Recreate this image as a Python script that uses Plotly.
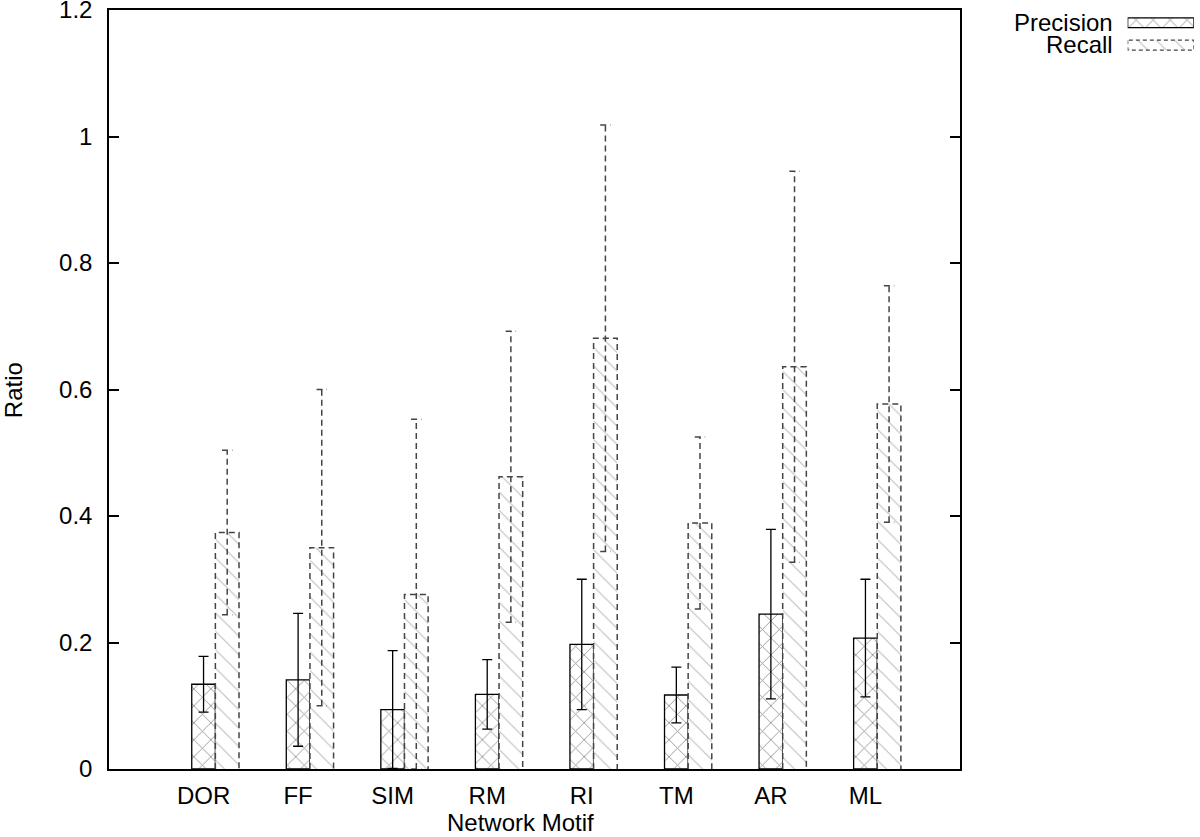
import plotly.graph_objects as go

# values
motifs = ['DOR', 'FF', 'SIM', 'RM', 'RI', 'TM', 'AR', 'ML']
precision = [0.134, 0.141, 0.094, 0.118, 0.197, 0.117, 0.245, 0.207]
precision_err = [0.044, 0.105, 0.093, 0.055, 0.103, 0.044, 0.134, 0.093]
recall = [0.374, 0.350, 0.276, 0.462, 0.681, 0.389, 0.636, 0.577]
recall_err = [0.130, 0.250, 0.277, 0.230, 0.337, 0.136, 0.309, 0.187]
y_ticks = [0, 0.2, 0.4, 0.6, 0.8, 1, 1.2]
y_tick_text = ['0', '0.2', '0.4', '0.6', '0.8', '1', '1.2']

BAR_W = 0.25
CAP = 0.055
FONT = dict(family='Liberation Sans, Arial, sans-serif', size=24, color='black')
DASH = '6px,4px'
REC_LINE = '#444444'
PREC_PATTERN = dict(shape='x', fgcolor='#333333', bgcolor='white', size=12, solidity=0.15)
REC_PATTERN = dict(shape='\\', fgcolor='#808080', bgcolor='white', size=13, solidity=0.09)

idx = list(range(len(motifs)))
x_rec = [i + BAR_W for i in idx]

fig = go.Figure()

# Precision bars: crosshatch, solid outline, solid error bars
fig.add_trace(go.Bar(
    x=idx, y=precision, width=BAR_W,
    marker=dict(color='white', line=dict(color='black', width=1.3),
                pattern=PREC_PATTERN),
    error_y=dict(type='data', array=precision_err, color='black',
                 thickness=1.3, width=5),
))

# Recall bars: diagonal hatch, dashed outline drawn separately
fig.add_trace(go.Bar(
    x=x_rec, y=recall, width=BAR_W,
    marker=dict(color='white', line=dict(width=0), pattern=REC_PATTERN),
))

ox, oy = [], []
for x, v in zip(x_rec, recall):
    ox += [x - BAR_W / 2, x - BAR_W / 2, x + BAR_W / 2, x + BAR_W / 2, None]
    oy += [0, v, v, 0, None]
fig.add_trace(go.Scatter(x=ox, y=oy, mode='lines', hoverinfo='skip',
                         line=dict(color=REC_LINE, width=1.5, dash=DASH)))

ex, ey = [], []
for x, v, e in zip(x_rec, recall, recall_err):
    lo, hi = max(v - e, 0), v + e
    ex += [x, x, None, x - CAP, x + CAP, None, x - CAP, x + CAP, None]
    ey += [lo, hi, None, hi, hi, None, lo, lo, None]
fig.add_trace(go.Scatter(x=ex, y=ey, mode='lines', hoverinfo='skip',
                         line=dict(color=REC_LINE, width=1.5, dash=DASH)))

# legend samples (gnuplot style, text left of a long box)
fig.add_trace(go.Bar(
    x=[1], y=[0], base=0, width=0.44, orientation='h', xaxis='x2', yaxis='y2',
    marker=dict(color='white', line=dict(color='black', width=1.3),
                pattern=PREC_PATTERN),
))
fig.add_trace(go.Bar(
    x=[1], y=[1], base=0, width=0.44, orientation='h', xaxis='x2', yaxis='y2',
    marker=dict(color='white', line=dict(width=0), pattern=REC_PATTERN),
))
fig.add_trace(go.Scatter(x=[0, 0, 1, 1, 0], y=[0.78, 1.22, 1.22, 0.78, 0.78],
                         mode='lines', xaxis='x2', yaxis='y2', hoverinfo='skip',
                         line=dict(color=REC_LINE, width=1.3, dash='4px,3px')))

fig.update_layout(
    width=1200, height=837,
    margin=dict(l=109, r=5, t=10, b=68),
    plot_bgcolor='white', paper_bgcolor='white',
    showlegend=False, font=FONT,
    xaxis=dict(domain=[0, 0.7836], range=[-1, 8], tickvals=idx, ticktext=motifs,
               ticks='', showline=True, mirror=True, linecolor='black',
               linewidth=1.5, showgrid=False, zeroline=False, automargin=False,
               tickfont=FONT, ticklabelstandoff=4),
    yaxis=dict(range=[0, 1.2], tickvals=y_ticks, ticktext=y_tick_text,
               ticks='inside', ticklen=10, tickwidth=1.5, tickcolor='black',
               showline=True, mirror='ticks', linecolor='black', linewidth=1.5,
               showgrid=False, zeroline=False, automargin=False, tickfont=FONT,
               ticklabelstandoff=10, ticklabeloverflow='allow'),
    xaxis2=dict(domain=[0.938, 0.999], range=[0, 1], anchor='y2',
                visible=False, fixedrange=True),
    yaxis2=dict(domain=[0.939, 0.998], range=[1.5, -0.5], anchor='x2',
                visible=False, fixedrange=True),
    annotations=[
        dict(text='Precision', xref='paper', yref='paper', x=0.9263, y=0.984,
             xanchor='right', yanchor='middle', showarrow=False, font=FONT),
        dict(text='Recall', xref='paper', yref='paper', x=0.9263, y=0.954,
             xanchor='right', yanchor='middle', showarrow=False, font=FONT),
        dict(text='Network Motif', xref='paper', yref='paper', x=0.379, y=-0.0705,
             xanchor='center', yanchor='middle', showarrow=False, font=FONT),
        dict(text='Ratio', xref='paper', yref='paper', x=-0.0885, y=0.499,
             xanchor='center', yanchor='middle', textangle=-90,
             showarrow=False, font=FONT),
    ],
)

# drop the browser's default body margin so the figure sits at the page corner
fig.write_html('out.html', config={'displayModeBar': False},
               post_script="document.body.style.margin = '0';")
